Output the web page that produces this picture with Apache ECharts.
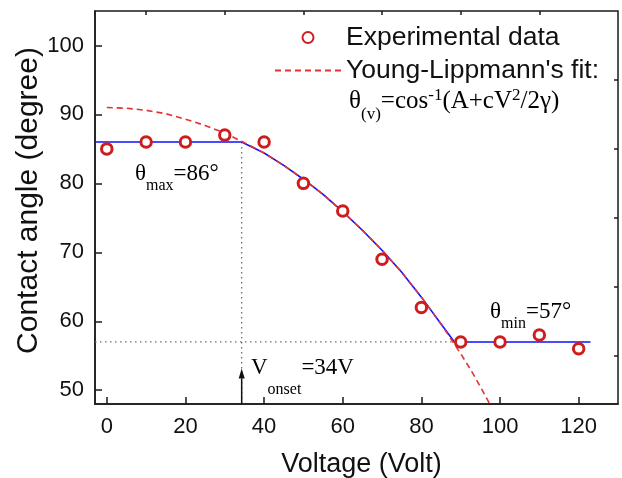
<!DOCTYPE html>
<html><head><meta charset="utf-8">
<script src="https://cdn.jsdelivr.net/npm/echarts@6/dist/echarts.min.js"></script>
<style>html,body{margin:0;padding:0;background:#fff}#c{width:622px;height:478px}</style>
</head><body><div id="c"></div>
<script>
// ---- data ----
const voltage = [0, 10, 20, 30, 40, 50, 60, 70, 80, 90, 100, 110, 120];
const angle = [85, 86, 86, 87, 86, 80, 76, 69, 62, 57, 57, 58, 56];

const fitVoltage = [0, 5, 10, 15, 20, 25, 30, 35, 40, 45, 50, 55, 60, 65, 70, 75, 80, 85, 90, 92.5, 95, 97.4];
const fitAngle   = [91.0, 90.9, 90.6, 90.1, 89.3, 88.4, 87.3, 85.9, 84.4, 82.6, 80.6, 78.4, 75.9, 73.2, 70.3, 67.1, 63.5, 59.6, 55.3, 53.0, 50.5, 48.0];

const pieceVoltage = [-3, 34.3, 40, 45, 50, 55, 60, 65, 70, 75, 80, 85, 88.4, 123];
const pieceAngle   = [86, 86, 84.4, 82.6, 80.6, 78.4, 75.9, 73.2, 70.3, 67.1, 63.5, 59.6, 57, 57];

const xTickLabels = [0, 20, 40, 60, 80, 100, 120];
const xMinorTicks = [10, 30, 50, 70, 90, 110];
const yTickLabels = [50, 60, 70, 80, 90, 100];
const yMinorTicks = [55, 65, 75, 85, 95];

const xRange = [-3, 130];
const yRange = [48, 105];
const onsetVoltage = 34.3;
const thetaMax = 86;
const thetaMin = 57;
const breakVoltage = 88.4;
const arrowBase = 51.7;

const zip = (a, b) => a.map((v, i) => [v, b[i]]);

const SANS = 'Liberation Sans, Arial, sans-serif';
const SERIF = 'Liberation Serif, Times New Roman, serif';
const AXIS_COLOR = '#1a1a1a';
const RED_PT = '#cf1d1d';
const RED_LN = '#e03434';

const chart = echarts.init(document.getElementById('c'), null, {renderer: 'canvas'});

const baseX = {
  type: 'value', gridIndex: 0, min: xRange[0], max: xRange[1],
  splitLine: {show: false}
};
const baseY = {
  type: 'value', gridIndex: 0, min: yRange[0], max: yRange[1],
  splitLine: {show: false}
};

// rich styles: t = base, s = subscript, p = superscript (padding top moves glyphs down)
const serifRich = (size, subSize, padBase, padSub, padSup) => ({
  t: {fontFamily: SERIF, fontSize: size, color: '#111', verticalAlign: 'top', padding: [padBase, 0, 0, 0]},
  s: {fontFamily: SERIF, fontSize: subSize, color: '#111', verticalAlign: 'top', padding: [padSub, 0, 0, 0]},
  p: {fontFamily: SERIF, fontSize: subSize, color: '#111', verticalAlign: 'top', padding: [padSup || 0, 0, 0, 0]}
});

chart.setOption({
  animation: false,
  backgroundColor: '#fff',
  grid: {left: 95, right: 4, top: 11, bottom: 74, show: true, borderColor: AXIS_COLOR, borderWidth: 1.5,
         containLabel: false, outerBoundsMode: 'none'},
  legend: {
    data: [
      {name: 'Experimental data'},
      {name: "Young-Lippmann's fit:", itemStyle: {opacity: 0}}
    ],
    orient: 'vertical', left: 269, top: 19,
    itemWidth: 66, itemHeight: 11, itemGap: 6,
    textStyle: {fontFamily: SANS, fontSize: 26.5, color: '#111'},
    selectedMode: false
  },
  xAxis: [
    Object.assign({}, baseX, {
      name: 'Voltage (Volt)', nameLocation: 'middle', nameGap: 47, nameMoveOverlap: false,
      nameTextStyle: {fontFamily: SANS, fontSize: 27, color: '#111', padding: [0, 0, 0, 10]},
      axisLine: {show: true, onZero: false, lineStyle: {color: AXIS_COLOR, width: 1.5}},
      axisTick: {show: true, inside: true, length: 7, customValues: xTickLabels, lineStyle: {color: AXIS_COLOR, width: 1.5}},
      axisLabel: {show: true, customValues: xTickLabels, margin: 12, fontFamily: SANS, fontSize: 22, color: '#111'}
    }),
    Object.assign({}, baseX, {
      axisLine: {show: false, onZero: false},
      axisTick: {show: true, inside: true, length: 4, customValues: xMinorTicks, lineStyle: {color: AXIS_COLOR, width: 1.5}},
      axisLabel: {show: false}
    })
  ],
  yAxis: [
    Object.assign({}, baseY, {
      name: 'Contact angle (degree)', nameLocation: 'middle', nameGap: 51, nameMoveOverlap: false,
      nameTextStyle: {fontFamily: SANS, fontSize: 30, color: '#111', padding: [0, 0, 0, 14]},
      axisLine: {show: true, onZero: false, lineStyle: {color: AXIS_COLOR, width: 1.5}},
      axisTick: {show: true, inside: true, length: 7, customValues: yTickLabels, lineStyle: {color: AXIS_COLOR, width: 1.5}},
      axisLabel: {show: true, customValues: yTickLabels, margin: 11, fontFamily: SANS, fontSize: 22, color: '#111'}
    }),
    Object.assign({}, baseY, {
      axisLine: {show: false, onZero: false},
      axisTick: {show: true, inside: true, length: 4, customValues: yMinorTicks, lineStyle: {color: AXIS_COLOR, width: 1.5}},
      axisLabel: {show: false}
    })
  ],
  series: [
    {
      name: 'piecewise', type: 'line', xAxisIndex: 0, yAxisIndex: 0,
      data: zip(pieceVoltage, pieceAngle), symbol: 'none', z: 2,
      lineStyle: {color: '#1010ff', width: 1.6}, silent: true
    },
    {
      name: 'onsetGuide', type: 'line', xAxisIndex: 0, yAxisIndex: 0,
      data: [[onsetVoltage, thetaMax], [onsetVoltage, yRange[0]]], symbol: 'none', z: 1,
      lineStyle: {color: '#6f6f6f', width: 1.3, type: [1.5, 3.5]}, silent: true
    },
    {
      name: 'onsetArrow', type: 'line', xAxisIndex: 0, yAxisIndex: 0,
      data: [
        [onsetVoltage, yRange[0]],
        {value: [onsetVoltage, arrowBase], symbol: 'triangle', symbolSize: [6, 10], symbolOffset: [0, -5]}
      ],
      symbol: 'none', showSymbol: true, z: 4,
      itemStyle: {color: '#111'},
      lineStyle: {color: '#111', width: 1.5}, silent: true
    },
    {
      name: 'minGuide', type: 'line', xAxisIndex: 0, yAxisIndex: 0,
      data: [[xRange[0], thetaMin], [breakVoltage, thetaMin]], symbol: 'none', z: 1,
      lineStyle: {color: '#6f6f6f', width: 1.3, type: [1.5, 3.5]}, silent: true
    },
    {
      name: "Young-Lippmann's fit:", type: 'line', xAxisIndex: 0, yAxisIndex: 0,
      data: zip(fitVoltage, fitAngle), symbol: 'none', smooth: false, z: 3,
      itemStyle: {color: RED_LN},
      lineStyle: {color: RED_LN, width: 1.6, type: [6, 4]}, silent: true
    },
    {
      name: 'Experimental data', type: 'scatter', xAxisIndex: 0, yAxisIndex: 0,
      data: zip(voltage, angle), symbol: 'circle', symbolSize: 10.5, z: 5,
      itemStyle: {color: '#fff', borderColor: RED_PT, borderWidth: 3, opacity: 1}, silent: true
    }
  ],
  graphic: [
    {type: 'text', x: 135, y: 162.5, z: 10, silent: true,
     style: {text: '{t|θ}{s|max}{t|=86°}', rich: serifRich(23, 16, 0, 15.5)}},
    {type: 'text', x: 490, y: 300.5, z: 10, silent: true,
     style: {text: '{t|θ}{s|min}{t|=57°}', rich: serifRich(23, 16, 0, 15)}},
    {type: 'text', x: 251, y: 356, z: 10, silent: true,
     style: {text: '{t|V}{s|onset}{t|=34V}', rich: serifRich(23, 16, 0, 26)}},
    {type: 'text', x: 349, y: 87, z: 10, silent: true,
     style: {text: '{t|θ}{s|(v)}{t|=cos}{p|-1}{t|(A+cV}{p|2}{t|/2γ)}', rich: serifRich(25, 17, 2, 19, 0)}}
  ]
});
</script></body></html>
